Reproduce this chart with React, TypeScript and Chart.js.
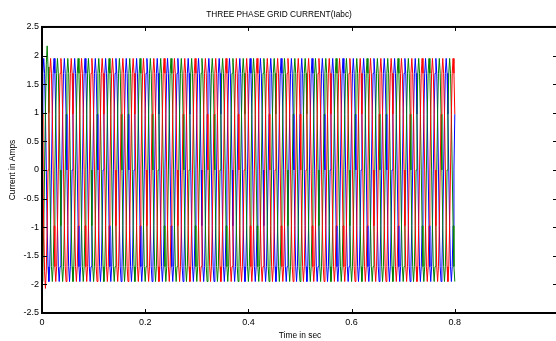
import React, { useEffect, useRef } from 'react';
import { Chart, registerables } from 'chart.js';

Chart.register(...registerables);

const TITLE = 'THREE PHASE GRID CURRENT(Iabc)';
const X_LABEL = 'Time in sec';
const Y_LABEL = 'Current in Amps';

const SERIES_NAMES = ['Ia', 'Ib', 'Ic'];
const SERIES_COLORS = ['#ff0000', '#008000', '#0000ff'];

const X_TICKS = [0, 0.2, 0.4, 0.6, 0.8, 1];
const X_TICK_LABELS = ['0', '0.2', '0.4', '0.6', '0.8', ''];
const Y_TICKS = [-2.5, -2, -1.5, -1, -0.5, 0, 0.5, 1, 1.5, 2, 2.5];
const Y_TICK_LABELS = ['-2.5', '-2', '-1.5', '-1', '-0.5', '0', '0.5', '1', '1.5', '2', '2.5'];

// one 50 Hz cycle (20 ms), 12 samples per cycle
const CYCLE_SECONDS = 0.02;
const CYCLE_COUNT = 40;

// first cycle (start-up transient)
const RED_FIRST = [0.975, 0, -1.0, -1.78, -2.07, -1.75, -0.99, 0, 0.975, 1.69, 1.95, 1.69];
const GREEN_FIRST = [-1.95, -1.75, -1.02, 0, 1.05, 1.85, 2.17, 1.8, 1.0, 0, -0.975, -1.69];
const BLUE_FIRST = [0.975, 1.69, 1.95, 1.69, 0.975, 0, -0.975, -1.69, -1.95, -1.69, -0.975, 0];

// steady-state cycle
const RED_CYCLE = [0.975, 0, -0.975, -1.69, -1.95, -1.69, -0.975, 0, 0.975, 1.69, 1.95, 1.69];
const GREEN_CYCLE = [-1.95, -1.69, -0.975, 0, 0.975, 1.69, 1.95, 1.69, 0.975, 0, -0.975, -1.69];
const BLUE_CYCLE = [0.975, 1.69, 1.95, 1.69, 0.975, 0, -0.975, -1.69, -1.95, -1.69, -0.975, 0];

// value at t = 0.8 s
const RED_END = [0.975];
const GREEN_END = [-1.95];
const BLUE_END = [0.975];

const FONT = 'Liberation Sans, Arial, Helvetica, sans-serif';

function buildSeries(first: number[], cycle: number[], end: number[]) {
  let values: number[] = first.slice();
  for (let c = 1; c < CYCLE_COUNT; c++) values = values.concat(cycle);
  values = values.concat(end);
  const dt = CYCLE_SECONDS / cycle.length;
  return values.map((v, i) => ({ x: i * dt, y: v }));
}

const framePlugin = {
  id: 'matlabFrame',
  afterDatasetsDraw(chart: any) {
    const { ctx, chartArea: a, scales } = chart;
    const xs = scales.x;
    const ys = scales.y;
    ctx.save();
    ctx.strokeStyle = '#000';
    ctx.lineWidth = 1;
    ctx.beginPath();
    xs.ticks.forEach((t: any) => {
      const px = Math.round(xs.getPixelForValue(t.value)) + 0.5;
      ctx.moveTo(px, a.bottom);
      ctx.lineTo(px, a.bottom - 4);
      ctx.moveTo(px, a.top);
      ctx.lineTo(px, a.top + 4);
    });
    ys.ticks.forEach((t: any) => {
      const py = Math.round(ys.getPixelForValue(t.value)) + 0.5;
      ctx.moveTo(a.left, py);
      ctx.lineTo(a.left + 5, py);
      ctx.moveTo(a.right, py);
      ctx.lineTo(a.right - 5, py);
    });
    ctx.stroke();
    ctx.lineWidth = 2;
    ctx.strokeRect(a.left, a.top, a.right - a.left, a.bottom - a.top);
    ctx.restore();
  },
};

export default function App() {
  const ref = useRef<HTMLCanvasElement | null>(null);

  useEffect(() => {
    if (!ref.current) return;
    const series = [
      buildSeries(RED_FIRST, RED_CYCLE, RED_END),
      buildSeries(GREEN_FIRST, GREEN_CYCLE, GREEN_END),
      buildSeries(BLUE_FIRST, BLUE_CYCLE, BLUE_END),
    ];
    const chart = new Chart(ref.current, {
      type: 'line',
      data: {
        datasets: series.map((d, i) => ({
          label: SERIES_NAMES[i],
          data: d,
          borderColor: SERIES_COLORS[i],
          backgroundColor: SERIES_COLORS[i],
          borderWidth: 1,
          pointRadius: 0,
          tension: 0,
          fill: false,
        })),
      },
      options: {
        responsive: false,
        animation: false,
        events: [],
        layout: { padding: { left: 0, top: 0, right: 42, bottom: 0 } },
        plugins: {
          legend: { display: false },
          tooltip: { enabled: false },
          title: {
            display: true,
            text: TITLE,
            color: '#000',
            font: { family: FONT, size: 8.3, weight: 'normal' },
            padding: { top: 10, bottom: 7 },
          },
        },
        scales: {
          x: {
            type: 'linear',
            min: 0,
            max: 1,
            afterBuildTicks: (s: any) => {
              s.ticks = X_TICKS.map((v) => ({ value: v }));
            },
            afterFit: (s: any) => {
              s.height = 28;
            },
            grid: { display: false, drawTicks: false },
            border: { display: false },
            ticks: {
              color: '#000',
              font: { family: FONT, size: 9 },
              padding: 4,
              maxRotation: 0,
              autoSkip: false,
              callback: (v: any) => {
                const i = X_TICKS.indexOf(Number(v));
                return i >= 0 ? X_TICK_LABELS[i] : '';
              },
            },
            title: {
              display: true,
              text: X_LABEL,
              color: '#000',
              font: { family: FONT, size: 8.4 },
              padding: { top: 0, bottom: 0.5 },
            },
          },
          y: {
            type: 'linear',
            min: -2.5,
            max: 2.5,
            afterBuildTicks: (s: any) => {
              s.ticks = Y_TICKS.map((v) => ({ value: v }));
            },
            afterFit: (s: any) => {
              s.width = 42;
            },
            grid: { display: false, drawTicks: false },
            border: { display: false },
            ticks: {
              color: '#000',
              font: { family: FONT, size: 9 },
              padding: 3,
              autoSkip: false,
              callback: (v: any) => {
                const i = Y_TICKS.indexOf(Number(v));
                return i >= 0 ? Y_TICK_LABELS[i] : '';
              },
            },
            title: {
              display: true,
              text: Y_LABEL,
              color: '#000',
              font: { family: FONT, size: 8.4 },
              padding: { top: 8, bottom: 0 },
            },
          },
        },
      },
      plugins: [framePlugin],
    });
    return () => chart.destroy();
  }, []);

  return (
    <div
      style={{
        position: 'absolute',
        left: 0,
        top: 0,
        width: 556,
        height: 341,
        overflow: 'hidden',
        background: '#fff',
      }}
    >
      <canvas ref={ref} width={600} height={341} style={{ display: 'block', width: 600, height: 341 }} />
    </div>
  );
}
